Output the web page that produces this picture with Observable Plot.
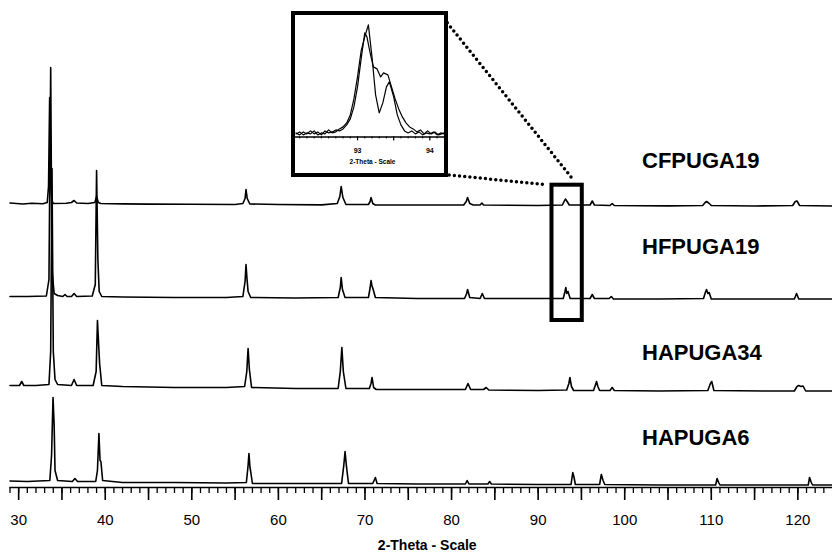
<!DOCTYPE html>
<html><head><meta charset="utf-8">
<script src="https://cdn.jsdelivr.net/npm/d3@7"></script>
<script src="https://cdn.jsdelivr.net/npm/@observablehq/plot@0.6"></script>
<style>
body{margin:0;background:#fff;}
#wrap{position:relative;width:832px;height:560px;overflow:hidden;background:#fff;}
#main{position:absolute;left:0;top:0;}
#inset{position:absolute;left:290.7px;top:11.3px;width:149px;height:158px;border:4px solid #000;background:#fff;}
</style></head>
<body><div id="wrap"><div id="main"></div><div id="inset"></div></div>
<script>
// ---- data ----
const samples = ["CFPUGA19", "HFPUGA19", "HAPUGA34", "HAPUGA6"];
const offsets = [281, 188, 96, 2];          // vertical stacking offset of each pattern
const labelLevels = [327, 241, 135, 50];    // level of each sample name
const labelTheta = 102;
const tickLabels = [30, 40, 50, 60, 70, 80, 90, 100, 110, 120];
const majorTicks = [30, 35, 40, 45, 50, 55, 60, 65, 70, 75, 80, 85, 90, 95, 100, 105, 110, 115, 120];
const axisTitle = "2-Theta - Scale";

// [2-theta, intensity]
const cfpuga19 = [[29.0,3.5],[30.5,2.5],[31.5,3.2],[32.8,2.8],[33.3,4],[33.45,20],[33.58,109],[33.7,22],[33.85,6],[34.0,3],[35.5,3.2],[36.1,4],[36.4,6],[36.7,3.5],[38.0,3],[38.8,4],[39.0,10],[39.2,4],[39.5,3],[42,2.6],[45,2.4],[50,2.2],[55,2],[55.9,3],[56.15,8],[56.26,17],[56.4,8],[56.7,2.5],[60,2],[65,1.6],[66.8,3],[67.1,10],[67.25,20],[67.45,9],[67.8,2],[70.4,2],[70.6,5],[70.7,9],[70.9,3],[71.2,1.5],[75,1.5],[81.4,1.5],[81.7,5],[81.85,9],[82.1,3],[82.5,1.5],[83.3,1.5],[83.5,3.5],[83.7,1.5],[90,1],[92.8,1.5],[93.0,5],[93.15,7.5],[93.35,5],[93.6,1.5],[96.0,1.5],[96.25,5.5],[96.5,1.5],[98.3,1],[98.55,3],[98.8,1],[105,0.6],[109.0,1],[109.3,4],[109.45,5],[109.7,3.5],[110.0,1],[115,0.5],[119.4,1],[119.7,5],[119.9,5.5],[120.2,1],[124,0.5]];

const hfpuga19 = [[29.0,3],[31,3],[33.2,3.5],[33.5,20],[33.7,232],[33.85,30],[34.1,6],[34.5,4],[35.1,3],[35.35,5],[35.6,3],[36.1,3],[36.4,6],[36.7,3],[38.5,3.5],[38.85,15],[39.0,129],[39.15,40],[39.3,8],[39.6,3],[42,2.5],[48,2],[54,2],[55.9,3],[56.15,18],[56.26,35],[56.38,20],[56.5,8],[56.8,2],[62,1.5],[66.9,2],[67.15,12],[67.25,22],[67.4,10],[67.7,2],[70.4,2],[70.6,12],[70.7,19],[70.8,14],[70.95,10],[71.2,2],[76,1],[81.5,1],[81.75,6],[81.85,10],[82.1,2],[83.3,1],[83.55,6],[83.8,1],[88,1],[92.9,1],[93.1,8],[93.2,12],[93.3,6],[93.45,8],[93.7,1],[96.0,1],[96.25,5],[96.5,1],[98.2,1],[98.45,3],[98.7,0.5],[104,0.5],[109.1,1],[109.35,8],[109.45,10],[109.6,6],[109.75,7],[110.0,0.5],[116,0.5],[119.6,0.5],[119.85,6],[120.1,0.5],[124,0.5]];

const hapuga34 = [[29.0,6],[30.1,6],[30.35,10],[30.6,6],[32,6],[33.5,7],[33.7,40],[33.85,223],[34.0,40],[34.2,12],[34.5,7],[36.1,6],[36.4,12],[36.7,6],[38.6,6],[38.95,20],[39.1,71],[39.25,45],[39.35,28],[39.6,6],[42,5],[48,4],[54,4],[56.1,5],[56.35,20],[56.5,43],[56.65,22],[56.9,4],[62,3],[66.9,3],[67.15,20],[67.33,44],[67.5,20],[67.8,3],[70.5,3],[70.7,8],[70.82,14],[71.0,4],[71.3,2],[76,2],[81.6,2],[81.9,8],[82.2,2],[83.7,2],[84.0,4],[84.3,1.5],[90,1],[93.3,1.5],[93.55,8],[93.67,14],[93.85,5],[94.1,1],[96.4,1],[96.75,10],[96.9,5],[97.1,1],[98.3,1],[98.55,4],[98.8,1],[104,0.5],[109.6,1],[109.9,8],[110.05,10],[110.3,1],[116,0.5],[119.6,0.5],[119.9,5],[120.1,6],[120.35,5],[120.6,5.5],[120.9,0.5],[124,0.5]];

const hapuga6 = [[29.0,4.5],[31,4],[33.6,5],[33.8,30],[33.97,88],[34.1,60],[34.2,15],[34.5,5],[36.2,4],[36.5,7],[36.8,4],[38.9,4],[39.1,15],[39.27,52],[39.4,25],[39.5,24],[39.7,5],[42,3],[48,3],[54,2.5],[56.3,3],[56.5,20],[56.6,32],[56.72,18],[56.8,14],[57.0,2],[62,2],[67.3,2],[67.55,20],[67.7,34],[67.85,20],[68.1,2],[70.9,2],[71.1,6],[71.2,8],[71.4,2],[76,1.5],[81.6,1.5],[81.8,5],[82.0,1.5],[84.2,1.5],[84.4,4],[84.6,1.5],[90,1],[93.8,1],[94.0,13],[94.15,8],[94.3,1],[97.1,1],[97.3,11],[97.5,5],[97.7,1],[104,0.5],[110.5,0.5],[110.67,7],[110.85,3],[111.0,0.5],[116,0.5],[121.2,0.5],[121.35,8],[121.55,3],[121.7,0.5],[124,0.5]];

// zoomed region (2-theta range and level range) and inset
const zoomBox = {x1: 91.6, x2: 95.1, y1: 167, y2: 302.3};
const connectors = [
  {x1: 79.13, y1: 468.7, x2: 94.13, y2: 307},
  {x1: 79.13, y1: 313, x2: 90.75, y2: 303}
];

// inset: two overlapping patterns near 93 deg
const insetA = [[92.15,3],[92.2,5],[92.25,2],[92.3,4],[92.35,3],[92.4,6],[92.45,2],[92.5,4],[92.55,3],[92.6,7],[92.65,4],[92.7,5],[92.75,8],[92.8,10],[92.85,14],[92.9,22],[92.95,38],[93.0,60],[93.05,86],[93.1,100],[93.15,112],[93.2,80],[93.25,42],[93.3,24],[93.35,34],[93.4,50],[93.44,55],[93.5,40],[93.55,22],[93.6,12],[93.65,6],[93.7,4],[93.75,6],[93.8,3],[93.85,5],[93.9,2],[93.95,4],[94.0,3],[94.05,5],[94.1,2],[94.15,4],[94.2,3]];
const insetB = [[92.15,4],[92.2,2],[92.25,5],[92.3,3],[92.35,6],[92.4,3],[92.45,5],[92.5,2],[92.55,6],[92.6,4],[92.65,5],[92.7,7],[92.75,6],[92.8,8],[92.85,12],[92.9,18],[92.95,30],[93.0,50],[93.05,78],[93.1,104],[93.13,100],[93.18,82],[93.22,70],[93.27,68],[93.32,60],[93.36,64],[93.42,62],[93.47,50],[93.52,38],[93.57,28],[93.62,20],[93.67,14],[93.72,10],[93.77,8],[93.82,5],[93.87,7],[93.92,3],[93.97,6],[94.02,3],[94.07,5],[94.12,2],[94.2,4]];
const insetTickLabels = [93, 94];
const insetMajorTicks = [93, 93.5, 94];

// ---- build ----
const series = [cfpuga19, hfpuga19, hapuga34, hapuga6];
const rows = series.flatMap((pts, i) => pts.map(([t, c]) => ({sample: samples[i], theta: t, level: offsets[i] + c})));
const labelRows = samples.map((s, i) => ({name: s, theta: labelTheta, level: labelLevels[i]}));
const font = "'Liberation Sans Narrow', 'Arial Narrow', 'Liberation Sans', Arial, sans-serif";

const main = Plot.plot({
  width: 832, height: 560,
  marginLeft: 9.5, marginRight: 0, marginTop: 0, marginBottom: 73,
  style: {background: "#fff", color: "#000", fontFamily: font, fontSize: "15px"},
  x: {domain: [29, 124], label: null},
  y: {domain: [0, 487], axis: null, label: null},
  marks: [
    Plot.ruleY([0], {stroke: "#000", strokeWidth: 1.6}),
    Plot.axisX({ticks: d3.range(29, 124), tickSize: 6, tickFormat: () => "", strokeWidth: 1.3, label: null}),
    Plot.axisX({ticks: majorTicks, tickSize: 13, tickFormat: () => "", strokeWidth: 1.6, label: null}),
    Plot.axisX({ticks: tickLabels, tickSize: 0, tickPadding: 27, fontSize: 15, tickFormat: d => String(d), label: null}),
    Plot.line(rows, {x: "theta", y: "level", z: "sample", stroke: "#000", strokeWidth: 1.6}),
    Plot.rect([zoomBox], {x1: "x1", x2: "x2", y1: "y1", y2: "y2", fill: "none", stroke: "#000", strokeWidth: 4}),
    Plot.link(connectors, {x1: "x1", y1: "y1", x2: "x2", y2: "y2", stroke: "#000", strokeWidth: 3.5, strokeDasharray: "0 5.2", strokeLinecap: "round"}),
    Plot.text(labelRows, {x: "theta", y: "level", text: "name", textAnchor: "start", fontSize: 22, fontWeight: "bold", fontFamily: "'Liberation Sans', Arial, sans-serif"}),
    Plot.text([axisTitle], {frameAnchor: "bottom", dx: 6, dy: 62, text: d => d, fontSize: 14, fontWeight: "bold"})
  ]
});
document.getElementById("main").appendChild(main);

const insetRows = [
  ...insetA.map(([t, c]) => ({s: "A", theta: t, v: c})),
  ...insetB.map(([t, c]) => ({s: "B", theta: t, v: c}))
];
const inset = Plot.plot({
  width: 149, height: 158,
  marginLeft: 0, marginRight: 0, marginTop: 0, marginBottom: 36.6,
  style: {background: "#fff", color: "#000", fontFamily: "'Liberation Sans', Arial, sans-serif", fontSize: "7px"},
  x: {domain: [92.142, 94.203], label: null},
  y: {domain: [0, 121.4], axis: null, label: null},
  marks: [
    Plot.ruleY([0], {stroke: "#000", strokeWidth: 1.5}),
    Plot.axisX({ticks: d3.range(922, 943).map(v => v / 10), tickSize: 2, tickFormat: () => "", strokeWidth: 1, label: null}),
    Plot.axisX({ticks: insetMajorTicks, tickSize: 4, tickFormat: () => "", strokeWidth: 1.2, label: null}),
    Plot.axisX({ticks: insetTickLabels, tickSize: 0, tickPadding: 11, fontSize: 7, fontWeight: "bold", tickFormat: d => String(d), label: null}),
    Plot.line(insetRows, {x: "theta", y: "v", z: "s", stroke: "#000", strokeWidth: 1.2}),
    Plot.text([axisTitle], {frameAnchor: "bottom", dx: 2.5, dy: 27.3, text: d => d, fontSize: 6.5, fontWeight: "bold"})
  ]
});
document.getElementById("inset").appendChild(inset);
</script>
</body></html>
